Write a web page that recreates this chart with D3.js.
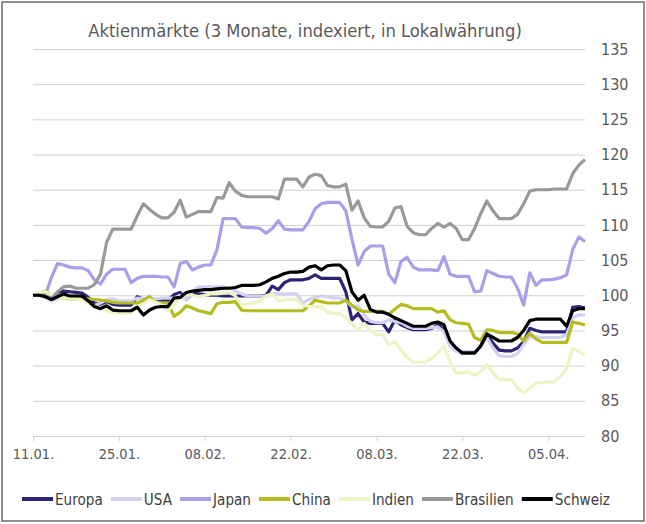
<!DOCTYPE html>
<html><head><meta charset="utf-8">
<script src="https://cdn.jsdelivr.net/npm/d3@7"></script>
<style>body{margin:0;background:#fff}svg{display:block}</style>
</head><body>
<svg id="chart" width="646" height="524"></svg>
<script>
// ---- data ----
const startDate = "2021-01-11";
const seriesNames = ["Europa","USA","Japan","China","Indien","Brasilien","Schweiz"];
const seriesColors = ["#2b2373","#d3d1f2","#a79fe7","#b4bc1f","#eef3c6","#999999","#000000"];
const europa = [100,100,100.1,99.6,100.4,100.6,100.5,100.4,100.3,99.7,
98.9,98.7,99.1,98.7,98.6,98.6,98.6,99.8,99.4,99.4,
99.3,99.3,99.3,100.1,100.4,99.4,100.3,100.2,100.1,100,
100,99.9,99.9,99.9,99.9,99.9,99.9,99.9,100,101.3,
100.8,101.8,102.2,102.2,102.2,102.4,102.9,102.4,102.4,102.4,
102.4,100.5,96.5,97.4,96.2,96,96,96,94.8,96.5,
95.8,95.4,95.1,95.1,95.1,95.3,95.8,95.1,93,92.2,
91.8,91.8,91.8,92.8,94.4,93.2,92.2,92.1,92.1,92.5,
93.4,95.3,95,94.8,94.8,94.8,94.8,94.8,98.3,98.4,
98.2];
const usa = [100,100,99.8,99.2,99.5,99.8,99.9,99.9,99.8,99,
98.5,98.9,99.4,99.5,99.2,99.2,99.2,99.6,99.5,99.5,
99.5,99.6,99.6,99.6,100,99.4,100.5,101.2,101.2,101.2,
101.2,101.2,101.1,100.6,100.2,99.9,99.9,99.9,99.9,100.2,
100.2,100.2,100.2,100.2,98.9,99.4,99.7,99.9,99.8,99.6,
99.6,99.2,98.4,98.5,97.2,96.3,96.1,96.1,96.5,96.3,
96.1,95.6,95.3,95.3,95.3,95.4,95.5,94.8,92.8,92,
92,92,92,92.7,94,92.5,91.4,91.3,91.3,91.7,
93,94.1,94.1,94,94,94,94,94.4,96.8,97.2,
97.2];
const japan = [100,100,100,102.5,104.5,104.3,104,103.9,103.9,103.5,
102.2,101.6,103,103.7,103.7,103.7,101.8,102.4,102.7,102.7,
102.7,102.6,102.6,101.2,104.5,104.8,103.6,104,104.3,104.3,
106.5,110.9,110.9,110.9,109.7,109.6,109.6,109.5,108.8,109.5,
110.6,109.4,109.3,109.3,109.3,110.5,112.3,113,113.2,113.2,
113.2,112,108,104.3,106.2,107,107,107,103,101.8,
104.8,105.4,104,103.6,103.6,103.6,103.5,105.5,103,102.7,
102.7,102.7,100.5,100.6,103.5,103.1,102.7,102.6,102.6,101,
98.6,103.2,101.4,102.2,102.2,102.3,102.5,102.9,106.5,108.3,
107.6];
const china = [100,100.3,100.6,100,99.8,99.6,99.5,99.5,99.5,99.5,
99.4,99.3,99.2,99,98.9,98.9,98.9,98.9,99.3,99.8,
99,98.9,98.9,97,97.6,98.5,98.2,97.8,97.6,97.4,
98.8,99,99,99.1,97.9,97.8,97.8,97.8,97.8,97.8,
97.8,97.8,97.8,97.8,97.8,98.5,99.3,99.1,98.9,98.9,
98.9,99.3,98.6,97.9,97.7,97.7,97.7,97.7,97.3,98,
98.7,98.5,98.1,98.1,98.1,98.1,97.6,97.8,96.5,96.1,
96,95.9,94,93.6,95.1,95,94.7,94.7,94.7,94.5,
93.5,94.6,93.8,93.3,93.3,93.3,93.3,93.3,96.2,96,
95.8];
const indien = [100,100.4,100.5,100,99.7,99.6,99.6,99.5,99.3,98.8,
98.4,98.2,97.8,97.5,97.5,97.5,97.5,98.3,98.8,99.4,
99,98.6,97.8,98.7,99.6,100.1,100,99.8,100,100.2,
100.2,100.3,100.4,99.9,98.6,98.8,98.9,99.2,99.9,100.2,
99.2,99.3,99.4,99.4,98.6,98.4,98.4,98.4,97.6,97.4,
97.4,96.8,96,95.1,96,95,94.4,94.4,93,93.4,
92.2,91.2,90.5,90.5,90.5,91,91.8,92.8,90.5,88.9,
89,89.1,88.6,89.2,90.1,89,88,88,88,86.8,
86.1,86.8,87.5,87.6,87.7,87.7,88.5,89.5,92.5,92,
91.5];
const brasilien = [100,100,100,99.5,100.5,101.2,101.3,101,101,101,
101.5,103,107.5,109.4,109.4,109.4,109.4,111.3,113,112.2,
111.5,111,111,111.8,113.5,111.1,111.5,111.9,111.9,111.9,
113.9,113.8,116,114.8,114.2,114,114,114,114,114,
113.7,116.5,116.5,116.5,115.4,116.8,117.2,117,115.6,115.4,
115.4,115.8,112.1,113.4,111,109.8,109.7,109.7,110.5,112.4,
112.6,109.8,108.9,108.6,108.6,109.5,110.2,109.7,110.2,109.5,
107.9,107.9,109.5,111.6,113.4,112,110.9,110.9,110.9,111.5,
113,114.8,115,115,115,115.1,115.1,115.1,117.3,118.5,
119.3];
const schweiz = [100,100,99.8,99.4,99.8,100.2,99.9,99.9,99.9,99.2,
98.4,98.1,98.5,97.9,97.8,97.8,97.8,98.3,97.2,97.9,
98.3,98.4,98.4,99.6,99.7,100.4,100.6,100.7,100.8,100.8,
100.9,101,101,101.1,101.4,101.4,101.4,101.5,101.9,102.4,
102.7,103.1,103.3,103.3,103.4,104,104.2,103.6,104.2,104.3,
104.3,103.5,100.5,99.3,100,98,97.6,97.6,97.3,96.8,
96.4,96,95.6,95.6,95.6,96,96.2,95.8,93.5,92.5,
91.8,91.8,91.8,92.8,94.5,94,93.5,93.5,93.5,94,
95,96.4,96.6,96.6,96.6,96.6,96.6,95.6,97.8,98.1,
98.1];
const seriesValues = [europa, usa, japan, china, indien, brasilien, schweiz];
const yTicks = [80,85,90,95,100,105,110,115,120,125,130,135];
const xTickDates = ["2021-01-11","2021-01-25","2021-02-08","2021-02-22","2021-03-08","2021-03-22","2021-04-05"];
const xTickLabels = ["11.01.","25.01.","08.02.","22.02.","08.03.","22.03.","05.04."];
const titleText = "Aktienmärkte (3 Monate, indexiert, in Lokalwährung)";

// ---- chart ----
const FONT = "'Liberation Sans Narrow','DejaVu Sans Condensed','Liberation Sans',sans-serif";
const svg = d3.select("#chart");
const parse = d3.utcParse("%Y-%m-%d");
const t0 = parse(startDate);
const n = europa.length;
const dates = d3.range(n).map(i => d3.utcDay.offset(t0, i));
const x = d3.scaleUtc().domain([t0, dates[n-1]]).range([33, 585]);
const y = d3.scaleLinear().domain([80, 135]).range([436, 49]);

svg.append("rect").attr("x",2).attr("y",2).attr("width",642).attr("height",519)
  .attr("fill","#fff").attr("stroke","#6b6b6b").attr("stroke-width",1.5);

// grid
const grid = svg.append("g").attr("transform","translate(585,0)")
  .call(d3.axisLeft(y).tickValues(yTicks).tickSize(552).tickFormat(""));
grid.select(".domain").remove();
grid.selectAll("line").attr("stroke","#d0d0d0").attr("stroke-width",1);

// y labels
const yl = svg.append("g").attr("transform","translate(585,0)")
  .call(d3.axisRight(y).tickValues(yTicks).tickSize(0).tickPadding(16));
yl.select(".domain").remove();
yl.selectAll("text").attr("font-family",FONT).attr("font-size",16).attr("fill","#595959");

// x axis
const xa = svg.append("g").attr("transform","translate(0,436)")
  .call(d3.axisBottom(x).tickValues(xTickDates.map(parse)).tickSize(5).tickPadding(8)
    .tickFormat((d,i) => xTickLabels[i]));
xa.select(".domain").remove();
xa.selectAll("line").attr("stroke","#d0d0d0");
xa.selectAll("text").attr("font-family",FONT).attr("font-size",14.5).attr("fill","#595959");

// lines
const line = d3.line().x((d,i) => x(dates[i])).y(d => y(d));
seriesValues.forEach((vals, k) => {
  svg.append("path").datum(vals).attr("d", line)
    .attr("fill","none").attr("stroke", seriesColors[k])
    .attr("stroke-width", 3.2).attr("stroke-linejoin","round").attr("stroke-linecap","butt");
});

// title
const title = svg.append("text").attr("x",305).attr("y",37).attr("text-anchor","middle")
  .attr("font-family",FONT).attr("font-size",21).attr("fill","#595959").text(titleText);
const tw = title.node().getComputedTextLength();
title.attr("font-size", 21 * 434 / tw);

// legend: fit font so that the legend spans x=22..610
const lg = svg.append("g");
const LINE = 31, GAP = 2, SEP = 8, L0 = 22, L1 = 610;
const probe = lg.append("text").attr("font-family",FONT).attr("font-size",20);
const w20 = seriesNames.map(s => { probe.text(s); return probe.node().getComputedTextLength(); });
probe.remove();
const fixed = seriesNames.length * (LINE + GAP) + (seriesNames.length - 1) * SEP;
const fs = 20 * (L1 - L0 - fixed) / d3.sum(w20);
let lx = L0;
seriesNames.forEach((name, k) => {
  lg.append("line").attr("x1",lx).attr("x2",lx+LINE).attr("y1",499).attr("y2",499)
    .attr("stroke",seriesColors[k]).attr("stroke-width",4);
  lg.append("text").attr("x",lx+LINE+GAP).attr("y",504.5)
    .attr("font-family",FONT).attr("font-size",fs).attr("fill","#404040").text(name);
  lx += LINE + GAP + w20[k] * fs / 20 + SEP;
});
</script>
</body></html>
